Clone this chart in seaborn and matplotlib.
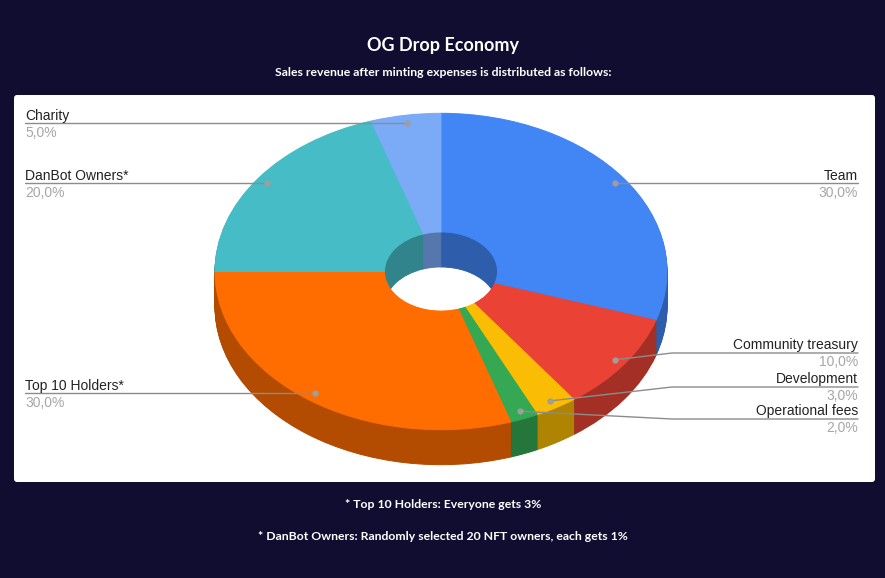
import matplotlib
matplotlib.use('Agg')
import matplotlib.pyplot as plt
import matplotlib.transforms as mtransforms
from matplotlib.colors import to_rgb
from matplotlib.patches import FancyBboxPatch
import numpy as np
import seaborn as sns

# data
labels = ['Team', 'Community treasury', 'Development', 'Operational fees',
          'Top 10 Holders*', 'DanBot Owners*', 'Charity']
shares = [30, 10, 3, 2, 30, 20, 5]
colors = ['#4285f4', '#ea4335', '#fbbc04', '#34a853', '#ff6d01', '#46bdc6', '#7baaf7']
title = 'OG Drop Economy'
subtitle = 'Sales revenue after minting expenses is distributed as follows:'
footnotes = ['* Top 10 Holders: Everyone gets 3%',
             '* DanBot Owners: Randomly selected 20 NFT owners, each gets 1%']

W, H = 885, 578
sns.set_style('white')
plt.rcParams['font.family'] = ['Liberation Sans', 'DejaVu Sans']

fig = plt.figure(figsize=(W / 100, H / 100), dpi=100)
fig.patch.set_facecolor('#110d30')
ax = fig.add_axes([0, 0, 1, 1])


def Y(y):
    # picture rows -> axis units (y up)
    return H - y


# pie geometry (pixels)
cx, cy = 441, Y(271.5)
R = 226
k = 0.70       # vertical squash of the tilted pie
depth = 35
hole = 0.25

dark = [tuple(c * 0.7 for c in to_rgb(col)) for col in colors]


def pie_layer(cols, dy, z):
    wedges, _ = ax.pie(shares, colors=cols, radius=R, startangle=90,
                       counterclock=False,
                       wedgeprops=dict(width=(1 - hole) * R, linewidth=0.7, zorder=z))
    tr = mtransforms.Affine2D().scale(1, k).translate(cx, cy - dy) + ax.transData
    for w in wedges:
        w.set_edgecolor(w.get_facecolor())
        w.set_transform(tr)


# side walls: stacked darker layers, then the top face
for d in range(depth, 0, -1):
    pie_layer(dark, d, 2)
pie_layer(colors, 0, 3)

ax.set_xlim(0, W)
ax.set_ylim(0, H)
ax.set_aspect('auto')
ax.axis('off')

# white panel
ax.add_patch(FancyBboxPatch((14, Y(482)), 861, 387,
                            boxstyle='round,pad=0,rounding_size=3',
                            fc='white', ec='none', zorder=0))

# labels with leader lines
line_col = '#8c8c8c'
right_y = {'Community treasury': 353, 'Development': 387, 'Operational fees': 419}
cum = np.cumsum([0] + shares[:-1])
total = sum(shares)
for lab, v, c0 in zip(labels, shares, cum):
    th = np.deg2rad(90 - 360 * (c0 + v / 2) / total)
    dx = cx + 0.95 * R * np.cos(th)
    dy = cy + 0.95 * R * k * np.sin(th)
    pct = f'{100 * v / total:.1f}%'.replace('.', ',')
    if dx < cx:
        ly = dy
        ax.plot([25, dx], [ly, ly], color=line_col, lw=1, zorder=4)
        tx, ha = 25, 'left'
    elif lab in right_y:
        ly = Y(right_y[lab])
        ax.plot([dx, 672, 858], [dy, ly, ly], color=line_col, lw=1, zorder=4)
        tx, ha = 858, 'right'
    else:
        ly = dy
        ax.plot([dx, 858], [ly, ly], color=line_col, lw=1, zorder=4)
        tx, ha = 858, 'right'
    ax.plot(dx, dy, 'o', ms=3.5, color='#9e9e9e', zorder=5)
    ax.text(tx, ly + 3.5, lab, ha=ha, va='baseline', fontsize=10, color='#222222', zorder=6)
    ax.text(tx, ly - 2.5, pct, ha=ha, va='top', fontsize=10, color='#a6a6a6', zorder=6)

# titles and footnotes
tfont = dict(family=['Lato', 'DejaVu Sans'], fontweight='bold', color='white')
ax.text(443, Y(45), title, ha='center', va='center', fontsize=13, **tfont)
ax.text(443, Y(72), subtitle, ha='center', va='center', fontsize=8.8, **tfont)
ax.text(443, Y(505), footnotes[0], ha='center', va='center', fontsize=8.8, **tfont)
ax.text(443, Y(537), footnotes[1], ha='center', va='center', fontsize=8.8, **tfont)

fig.savefig('out.png', dpi=100, facecolor=fig.get_facecolor())
